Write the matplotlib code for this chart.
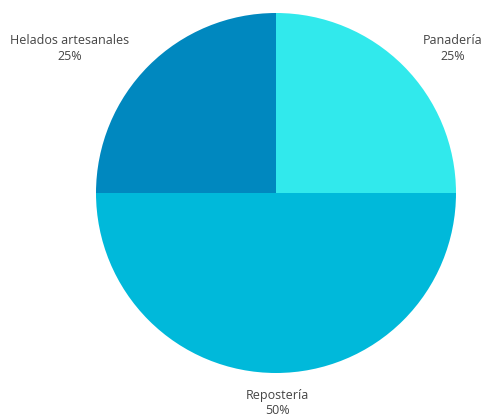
import matplotlib
matplotlib.use("Agg")
import matplotlib.pyplot as plt

categories = ["Panadería", "Repostería", "Helados artesanales"]
values = [25, 50, 25]
colors = ["#31E9EC", "#00B9DA", "#0088BF"]

W, H = 484, 416
fig = plt.figure(figsize=(W / 100, H / 100), dpi=100)
ax = fig.add_axes([0, 0, 1, 1])

cx, cy, r = 276, H - 193, 180
ax.pie(values, colors=colors, startangle=90, counterclock=False,
       center=(cx, cy), radius=r, frame=True,
       wedgeprops=dict(linewidth=0))
ax.set_xlim(0, W)
ax.set_ylim(0, H)
ax.set_aspect("equal")
ax.axis("off")

total = sum(values)
label_pos = [(453, H - 48.5), (277, H - 403), (70, H - 48.5)]
for cat, val, (x, y) in zip(categories, values, label_pos):
    ax.text(x, y, f"{cat}\n{round(val / total * 100)}%", ha="center", va="center",
            fontsize=9, color="#444444", family="Open Sans", linespacing=1.3)

fig.savefig("out.png", dpi=100)
